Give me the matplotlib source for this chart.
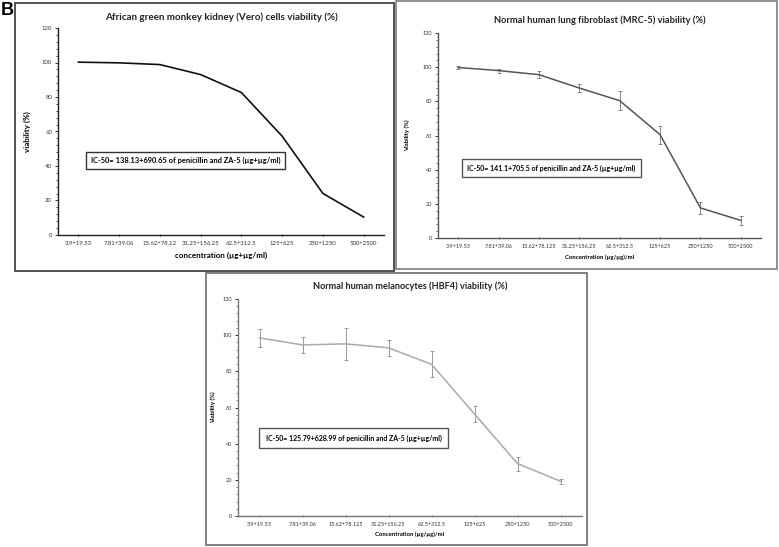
import matplotlib.pyplot as plt
from matplotlib.patches import Rectangle
from matplotlib.ticker import MultipleLocator

plt.rcParams["font.family"] = ["Lato", "DejaVu Sans"]

W, H = 779, 547

conc_labels = ["3.9+19.53", "7.81+39.06", "15.62+78.12", "31.25+156.25",
               "62.5+312.5", "125+625", "250+1250", "500+2500"]
conc_labels_b = ["3.9+19.53", "7.81+39.06", "15.62+78.125", "31.25+156.25",
                 "62.5+312.5", "125+625", "250+1250", "500+2500"]

vero_viab = [100.2, 99.8, 98.8, 93.0, 82.6, 57.3, 24.1, 10.4]

mrc5_viab = [99.8, 98.0, 95.6, 87.8, 80.4, 60.5, 17.6, 10.3]
mrc5_err = [1.0, 1.2, 2.0, 2.4, 5.6, 5.2, 3.3, 2.6]

hbf4_viab = [98.5, 94.6, 95.2, 93.0, 83.9, 56.4, 29.0, 19.2]
hbf4_err = [5.0, 4.4, 8.8, 4.6, 7.1, 4.4, 3.9, 1.5]


def px_rect(x0, y0, x1, y1):
    # pixel box (top-left origin) -> figure fraction [l, b, w, h]
    return [x0 / W, 1 - y1 / H, (x1 - x0) / W, (y1 - y0) / H]


def style_axes(ax, labels, color, tick_fs):
    ax.set_xlim(-0.5, 7.5)
    ax.set_ylim(0, 120)
    ax.set_xticks(range(len(labels)))
    ax.set_xticklabels(labels, fontsize=tick_fs, color="#333333")
    ax.yaxis.set_major_locator(MultipleLocator(20))
    ax.yaxis.set_minor_locator(MultipleLocator(4))
    ax.tick_params(axis="y", labelsize=tick_fs, colors="#333333", length=2.5,
                   width=0.7, direction="out", pad=1.8)
    ax.tick_params(axis="y", which="minor", length=1.5, width=0.6, color=color)
    ax.tick_params(axis="x", length=2, width=0.7, direction="inout", color=color, pad=3.5)
    for s in ["top", "right"]:
        ax.spines[s].set_visible(False)
    for s in ["left", "bottom"]:
        ax.spines[s].set_color(color)
        ax.spines[s].set_linewidth(1.0)
    ax.patch.set_alpha(0)


fig = plt.figure(figsize=(W / 100, H / 100), dpi=100)

# panel frames
frames = [((15, 3, 394, 271), "#444444"),
          ((396, 1, 777, 269), "#888888"),
          ((206, 273, 587, 545), "#777777")]
for (x0, y0, x1, y1), c in frames:
    l, b, w, h = px_rect(x0, y0, x1, y1)
    fig.add_artist(Rectangle((l, b), w, h, transform=fig.transFigure,
                             fill=False, edgecolor=c, linewidth=1.3))

fig.text(0.5 / W, 1 - 2 / H, "B", fontsize=13, fontweight="bold",
         family="Liberation Sans", ha="left", va="top")

# Vero
ax1 = fig.add_axes(px_rect(58, 28, 384, 235))
x = range(len(vero_viab))
ax1.plot(x, vero_viab, color="#111111", linewidth=1.2)
style_axes(ax1, conc_labels, "#222222", 4.3)
ax1.set_title("African green monkey kidney (Vero) cells viability (%)",
              fontsize=7.1, fontweight="bold", color="#222222", pad=6)
ax1.set_ylabel("viability (%)", fontsize=5.8, fontweight="bold", labelpad=8)
ax1.set_xlabel("concentration (µg+µg/ml)", fontsize=5.8, fontweight="bold", labelpad=4)
ax1.text(0.1, 0.36, "IC-50= 138.13+690.65 of penicillin and ZA-5 (µg+µg/ml)",
         transform=ax1.transAxes, fontsize=5.4, fontweight="bold", va="center",
         bbox=dict(boxstyle="square,pad=0.6", facecolor="white",
                   edgecolor="#333333", linewidth=1.0))

# MRC-5
ax2 = fig.add_axes(px_rect(438, 33, 761, 238))
ax2.errorbar(range(len(mrc5_viab)), mrc5_viab, yerr=mrc5_err, color="#555555",
             linewidth=1.1, ecolor="#888888", elinewidth=0.7, capsize=1.5, capthick=0.7)
style_axes(ax2, conc_labels_b, "#555555", 4.0)
ax2.set_title("Normal human lung fibroblast (MRC-5) viability (%)",
              fontsize=6.7, fontweight="bold", color="#222222", pad=7)
ax2.set_ylabel("Viability (%)", fontsize=4.3, fontweight="bold", labelpad=9)
ax2.set_xlabel("Concentration (µg/µg)/ml", fontsize=4.3, fontweight="bold", labelpad=4)
ax2.text(0.09, 0.34, "IC-50= 141.1+705.5 of penicillin and ZA-5 (µg+µg/ml)",
         transform=ax2.transAxes, fontsize=5.0, fontweight="bold", va="center",
         bbox=dict(boxstyle="square,pad=0.8", facecolor="white",
                   edgecolor="#555555", linewidth=1.0))

# HBF4
ax3 = fig.add_axes(px_rect(238, 299, 582, 516))
ax3.errorbar(range(len(hbf4_viab)), hbf4_viab, yerr=hbf4_err, color="#aaaaaa",
             linewidth=1.1, ecolor="#999999", elinewidth=0.7, capsize=1.5, capthick=0.7)
style_axes(ax3, conc_labels_b, "#777777", 4.0)
ax3.set_title("Normal human melanocytes (HBF4) viability (%)",
              fontsize=6.6, fontweight="bold", color="#222222", pad=7)
ax3.set_ylabel("Viability (%)", fontsize=4.3, fontweight="bold", labelpad=5)
ax3.set_xlabel("Concentration (µg/µg)/ml", fontsize=4.3, fontweight="bold", labelpad=3)
ax3.text(0.08, 0.36, "IC-50= 125.79+628.99 of penicillin and ZA-5 (µg+µg/ml)",
         transform=ax3.transAxes, fontsize=5.0, fontweight="bold", va="center",
         bbox=dict(boxstyle="square,pad=0.9", facecolor="white",
                   edgecolor="#555555", linewidth=1.0))

fig.savefig("out.png", dpi=100)
plt.close(fig)
